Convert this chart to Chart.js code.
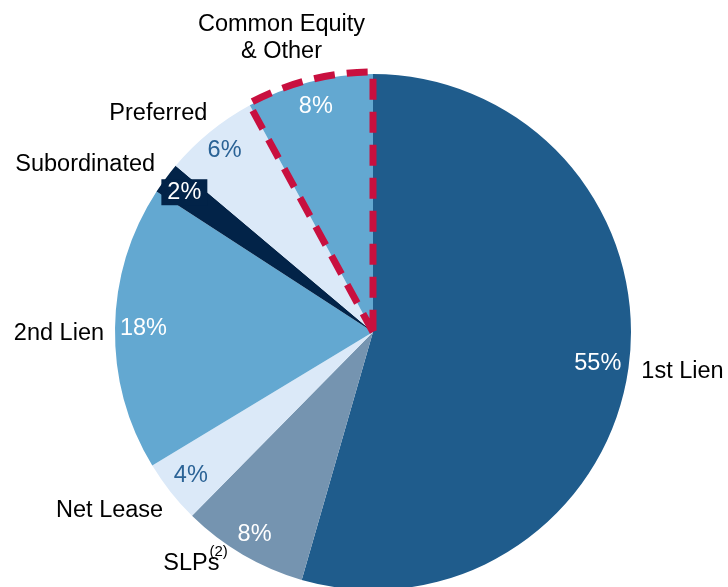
<!DOCTYPE html>
<html lang="en">
<head>
    <meta charset="UTF-8">
    <title>Portfolio Composition</title>
    <script src="https://cdn.jsdelivr.net/npm/chart.js"></script>
    <style>
        body { margin: 0; overflow: hidden; background: #fff; }
        #wrap { width: 728px; height: 600px; position: relative; }
    </style>
</head>
<body>
    <div id="wrap"><canvas id="pieChart"></canvas></div>

    <script>
        // Data
        const labels = ["1st Lien", "SLPs", "Net Lease", "2nd Lien", "Subordinated", "Preferred", "Common Equity\n& Other"];
        const values = [55, 8, 4, 18, 2, 6, 8];
        const sliceColors = ["#1F5C8C", "#7594B0", "#DBE9F8", "#63A8D1", "#022348", "#DBE9F8", "#63A8D1"];
        const pctColors = ["#ffffff", "#ffffff", "#2B6396", "#ffffff", "#ffffff", "#2B6396", "#ffffff"];
        const highlighted = 6;   // Common Equity & Other

        const FONT = "23.5px 'Liberation Sans', Arial, sans-serif";

        // Percent + category labels
        const labelPlugin = {
            id: "sliceLabels",
            afterDatasetsDraw(chart, args, opts) {
                const ctx = chart.ctx;
                const arcs = chart.getDatasetMeta(0).data;
                ctx.save();
                ctx.font = FONT;
                ctx.textBaseline = "middle";
                arcs.forEach((arc, i) => {
                    const mid = (arc.startAngle + arc.endAngle) / 2;
                    const R = arc.outerRadius;

                    // percent inside the slice
                    const pr = R * opts.pctRadius[i];
                    const px = arc.x + Math.cos(mid) * pr;
                    const py = arc.y + Math.sin(mid) * pr;
                    const txt = values[i] + "%";
                    ctx.textAlign = "center";
                    if (i === 4) {
                        const w = ctx.measureText(txt).width + 12;
                        ctx.fillStyle = sliceColors[i];
                        ctx.fillRect(px - w / 2, py - 13, w, 26);
                    }
                    ctx.fillStyle = pctColors[i];
                    ctx.fillText(txt, px, py);

                    // category label outside
                    const lr = R + 12;
                    const nudge = opts.nudge[i];
                    let lx = arc.x + Math.cos(mid) * lr + nudge[0];
                    let ly = arc.y + Math.sin(mid) * lr + nudge[1];
                    ctx.fillStyle = "#000000";
                    const lines = labels[i].split("\n");
                    if (lines.length > 1) {
                        ctx.textAlign = "center";
                        lines.forEach((l, k) => ctx.fillText(l, lx, ly + (k - (lines.length - 1) / 2) * 27));
                    } else if (i === 1) {
                        // SLPs with footnote marker
                        ctx.font = "15px 'Liberation Sans', Arial, sans-serif";
                        const sw = ctx.measureText("(2)").width;
                        ctx.textAlign = "right";
                        ctx.fillText("(2)", lx, ly - 11);
                        ctx.font = FONT;
                        ctx.fillText(lines[0], lx - sw + 10, ly);
                    } else {
                        ctx.textAlign = Math.cos(mid) < 0 ? "right" : "left";
                        ctx.fillText(lines[0], lx, ly);
                    }
                });
                ctx.restore();
            }
        };

        // red dashed outline on the highlighted slice
        const outlinePlugin = {
            id: "dashOutline",
            afterDatasetsDraw(chart) {
                const arc = chart.getDatasetMeta(0).data[highlighted];
                const ctx = chart.ctx;
                const r = arc.outerRadius + 2;
                ctx.save();
                ctx.strokeStyle = "#C8103F";
                ctx.lineWidth = 7;
                ctx.setLineDash([21, 12]);
                ctx.lineJoin = "miter";
                ctx.beginPath();
                ctx.moveTo(arc.x, arc.y);
                ctx.lineTo(arc.x + Math.cos(arc.startAngle) * r, arc.y + Math.sin(arc.startAngle) * r);
                ctx.arc(arc.x, arc.y, r, arc.startAngle, arc.endAngle);
                ctx.closePath();
                ctx.stroke();
                ctx.restore();
            }
        };

        new Chart(document.getElementById("pieChart"), {
            type: "pie",
            data: {
                labels: labels,
                datasets: [{
                    data: values,
                    backgroundColor: sliceColors,
                    borderWidth: 0
                }]
            },
            options: {
                responsive: true,
                maintainAspectRatio: false,
                animation: false,
                layout: { padding: { left: 115, right: 97, top: 74, bottom: 10 } },
                plugins: {
                    legend: { display: false },
                    tooltip: { enabled: false },
                    sliceLabels: {
                        pctRadius: [0.88, 0.91, 0.9, 0.89, 0.91, 0.91, 0.9],
                        nudge: [[1, 2], [-9, -2], [2, 11], [1, 6], [-1, -7], [5, -9], [-25, -32]]
                    }
                }
            },
            plugins: [outlinePlugin, labelPlugin]
        });
    </script>
</body>
</html>
